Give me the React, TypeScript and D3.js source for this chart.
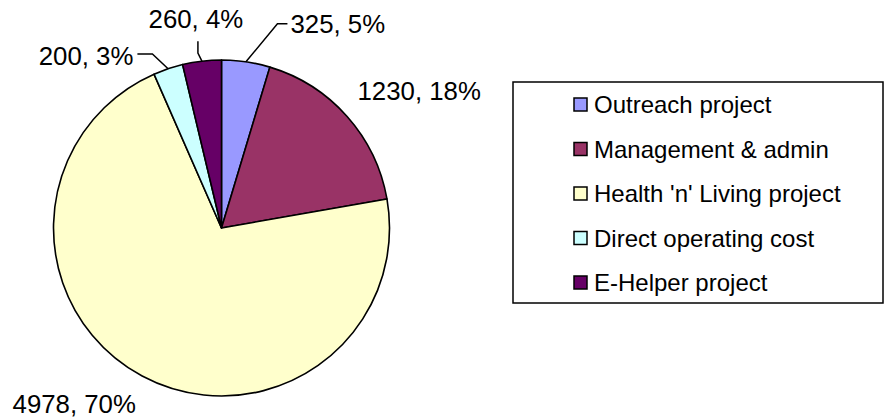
import * as d3 from "d3";
import { useRef, useEffect } from "react";

const categories = [
  "Outreach project",
  "Management & admin",
  "Health 'n' Living project",
  "Direct operating cost",
  "E-Helper project",
];
const values = [325, 1230, 4978, 200, 260];
const pctLabels = [5, 18, 70, 3, 4];
const colors = ["#9999FF", "#993366", "#FFFFCC", "#CCFFFF", "#660066"];

const W = 886;
const H = 417;
const FONT = "'Liberation Sans', Arial, sans-serif";

// label placement relative to the slice's mid-edge point
const labelLayout = [
  { dx: 44.5, dy: -29, anchor: "start", leader: "right" },
  { dx: 10.4, dy: -16.4, anchor: "start", leader: "" },
  { dx: -129.6, dy: 37, anchor: "start", leader: "" },
  { dx: -34.7, dy: -3.7, anchor: "end", leader: "left" },
  { dx: -6, dy: -33, anchor: "middle", leader: "up" },
];

const App = () => {
  const ref = useRef<SVGSVGElement>(null);

  useEffect(() => {
    const svg = d3.select(ref.current);
    svg.selectAll("*").remove();

    const cx = 221.5;
    const cy = 228;
    const r = 168;

    const pie = d3.pie<number>().sort(null).startAngle(0).endAngle(2 * Math.PI);
    const arcs = pie(values);
    const arc = d3.arc<d3.PieArcDatum<number>>().innerRadius(0).outerRadius(r);
    const edge = d3.arc<d3.PieArcDatum<number>>().innerRadius(r).outerRadius(r);

    const g = svg.append("g").attr("transform", `translate(${cx},${cy})`);

    g.selectAll("path.slice")
      .data(arcs)
      .enter()
      .append("path")
      .attr("class", "slice")
      .attr("d", arc)
      .attr("fill", (d, i) => colors[i])
      .attr("stroke", "#000")
      .attr("stroke-width", 1.6)
      .attr("stroke-linejoin", "round");

    arcs.forEach((d, i) => {
      const [ex, ey] = edge.centroid(d);
      const px = cx + ex;
      const py = cy + ey;
      const lay = labelLayout[i];
      const tx = px + lay.dx;
      const ty = py + lay.dy;

      let pts: [number, number][] = [];
      if (lay.leader === "right") {
        pts = [[px, py], [tx - 13, ty - 9], [tx - 3, ty - 9]];
      } else if (lay.leader === "left") {
        pts = [[px, py], [tx + 19, ty - 11], [tx + 4, ty - 11]];
      } else if (lay.leader === "up") {
        pts = [[px, py], [px - 4, py - 8], [px - 4, ty + 13]];
      }
      if (pts.length) {
        svg.append("path")
          .attr("d", d3.line()(pts))
          .attr("fill", "none")
          .attr("stroke", "#000")
          .attr("stroke-width", 1.5);
      }

      svg.append("text")
        .attr("x", tx)
        .attr("y", ty)
        .attr("text-anchor", lay.anchor)
        .attr("font-family", FONT)
        .attr("font-size", 25.8)
        .attr("fill", "#000")
        .text(`${values[i]}, ${pctLabels[i]}%`);
    });

    // legend
    const lx = 513;
    const ly = 82;
    svg.append("rect")
      .attr("x", lx)
      .attr("y", ly)
      .attr("width", 370)
      .attr("height", 221)
      .attr("fill", "#fff")
      .attr("stroke", "#000")
      .attr("stroke-width", 1.5);

    const rowY = d3.scalePoint<string>()
      .domain(categories)
      .range([105, 283]);

    const item = svg.selectAll("g.leg")
      .data(categories)
      .enter()
      .append("g")
      .attr("class", "leg")
      .attr("transform", d => `translate(0,${rowY(d)})`);

    item.append("rect")
      .attr("x", 574)
      .attr("y", -7)
      .attr("width", 13)
      .attr("height", 13)
      .attr("fill", (d, i) => colors[i])
      .attr("stroke", "#000")
      .attr("stroke-width", 1.5);

    item.append("text")
      .attr("x", 594)
      .attr("y", 8)
      .attr("font-family", FONT)
      .attr("font-size", 24)
      .attr("fill", "#000")
      .text(d => d);
  }, []);

  return (
    <svg
      ref={ref}
      width={W}
      height={H}
      style={{ position: "absolute", left: 0, top: 0, background: "#fff" }}
    />
  );
};

export default App;
